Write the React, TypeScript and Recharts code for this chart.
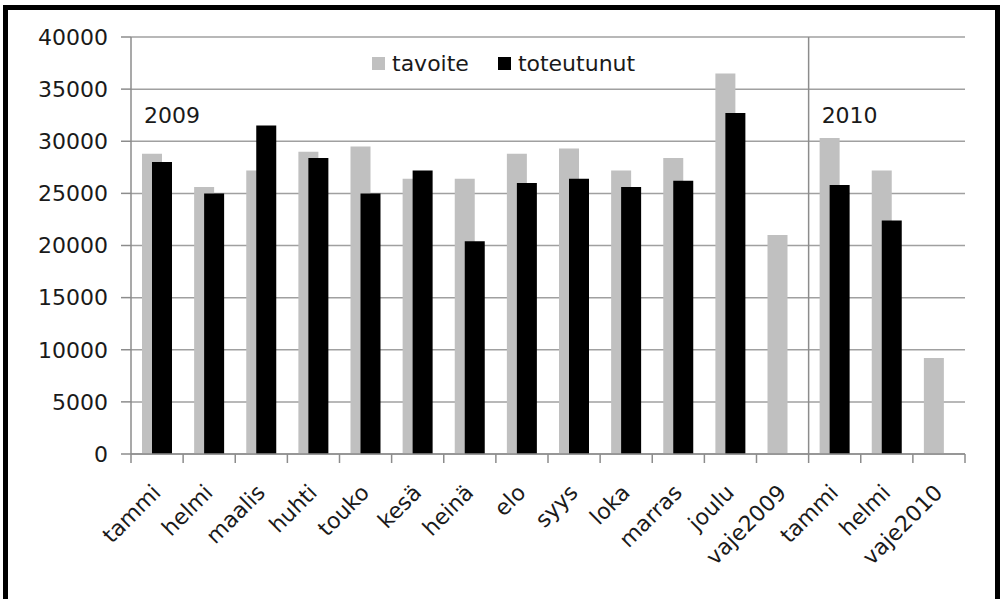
import { BarChart, Bar, XAxis, YAxis, CartesianGrid, Legend, ReferenceLine } from 'recharts';

const categories = ['tammi', 'helmi', 'maalis', 'huhti', 'touko', 'kesä', 'heinä', 'elo', 'syys', 'loka', 'marras', 'joulu', 'vaje2009', 'tammi', 'helmi', 'vaje2010'];
const tavoite = [28800, 25600, 27200, 29000, 29500, 26400, 26400, 28800, 29300, 27200, 28400, 36500, 21000, 30300, 27200, 9200];
const toteutunut = [28000, 25000, 31500, 28400, 25000, 27200, 20400, 26000, 26400, 25600, 26200, 32700, null, 25800, 22400, null];
const yTicks = [0, 5000, 10000, 15000, 20000, 25000, 30000, 35000, 40000];
const years = ['2009', '2010'];
const yearStart = [0, 13]; // first category index of each year

// category names repeat (tammi, helmi), so key rows by index
const data = categories.map((name, i) => ({
  id: String(i),
  name,
  tavoite: tavoite[i],
  toteutunut: toteutunut[i],
}));

const FONT = '"DejaVu Sans", Verdana, sans-serif';
const TEXT = '#1a1a1a';
const AXIS = '#8c8c8c';

function CategoryTick(props: any) {
  const { x, y, payload, index } = props;
  const half = payload && payload.offset ? payload.offset : 26;
  const last = index === categories.length - 1;
  return (
    <g>
      <line x1={x - half} x2={x - half} y1={y} y2={y + 9} stroke={AXIS} strokeWidth={1.5} />
      {last && <line x1={x + half} x2={x + half} y1={y} y2={y + 9} stroke={AXIS} strokeWidth={1.5} />}
      <text
        transform={`translate(${x + 5},${y + 40}) rotate(-45)`}
        textAnchor="end"
        fontFamily={FONT}
        fontSize={22}
        fill={TEXT}
      >
        {categories[index]}
      </text>
    </g>
  );
}

function YearLabel(text: string) {
  return (props: any) => {
    const vb = props.viewBox || {};
    return (
      <text x={vb.x + 13} y={vb.y + 86} fontFamily={FONT} fontSize={22} fill={TEXT}>
        {text}
      </text>
    );
  };
}

function renderLegend(props: any) {
  const items = props.payload || [];
  return (
    <div style={{ display: 'flex', alignItems: 'center', fontFamily: FONT, fontSize: 22, color: TEXT }}>
      {items.map((e: any) => (
        <span key={e.value} style={{ display: 'flex', alignItems: 'center', marginRight: 29 }}>
          <span style={{ width: 13, height: 13, background: e.color, marginRight: 7, display: 'inline-block' }} />
          {e.value}
        </span>
      ))}
    </div>
  );
}

export default function App() {
  return (
    <div style={{ position: 'absolute', left: 0, top: 0, width: 1002, height: 599, background: '#fff' }}>
      <BarChart
        width={1002}
        height={599}
        data={data}
        margin={{ top: 37, right: 37, bottom: 115, left: 0 }}
        barSize={20}
        barGap={-10}
      >
        <CartesianGrid vertical={false} stroke="#a0a0a0" strokeWidth={1.5} />
        <XAxis
          dataKey="id"
          interval={0}
          height={30}
          tickSize={0}
          tickMargin={0}
          tickLine={false}
          axisLine={{ stroke: AXIS, strokeWidth: 1.5 }}
          tick={<CategoryTick />}
        />
        <YAxis
          width={131}
          domain={[0, 40000]}
          ticks={yTicks}
          interval={0}
          tickSize={10}
          tickMargin={13}
          axisLine={{ stroke: AXIS, strokeWidth: 1.5 }}
          tickLine={{ stroke: AXIS, strokeWidth: 1.5 }}
          tick={{ fontFamily: FONT, fontSize: 22, fill: TEXT }}
        />
        <Legend
          layout="horizontal"
          verticalAlign="middle"
          wrapperStyle={{ top: 51, left: 372, width: 'auto' }}
          content={renderLegend}
        />
        <ReferenceLine x={String(yearStart[0])} position="start" stroke="none" label={YearLabel(years[0])} />
        <ReferenceLine x={String(yearStart[1])} position="start" stroke={AXIS} strokeWidth={1.5} label={YearLabel(years[1])} />
        <Bar dataKey="tavoite" name="tavoite" fill="#c0c0c0" isAnimationActive={false} />
        <Bar dataKey="toteutunut" name="toteutunut" fill="#000000" isAnimationActive={false} />
      </BarChart>
      <div
        style={{
          position: 'absolute',
          left: 3,
          top: 5,
          width: 997,
          height: 594,
          boxSizing: 'border-box',
          borderLeft: '5px solid #000',
          borderRight: '5px solid #000',
          borderTop: '5px solid #000',
          pointerEvents: 'none',
        }}
      />
    </div>
  );
}
